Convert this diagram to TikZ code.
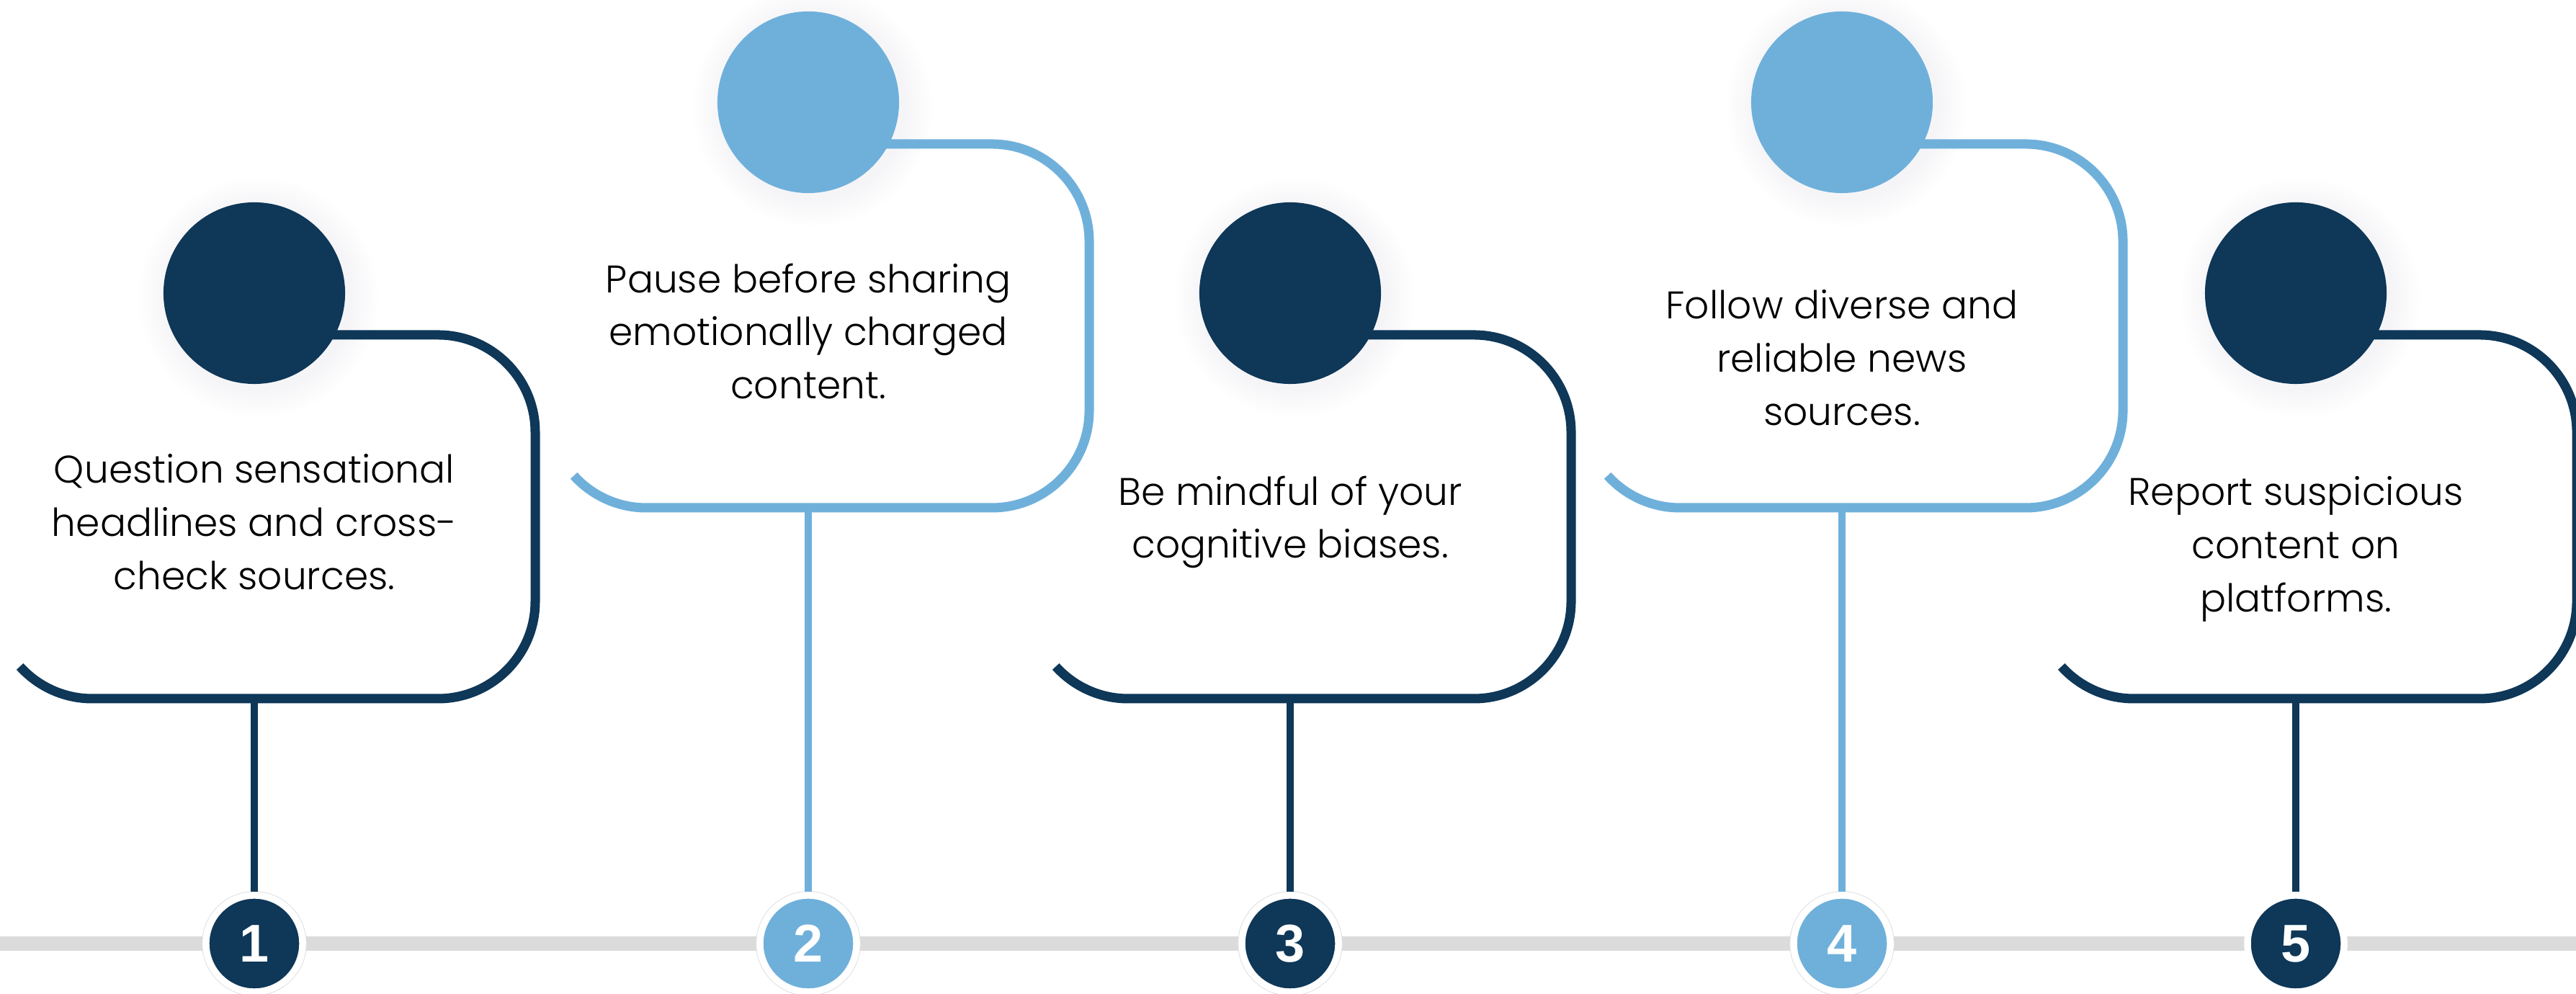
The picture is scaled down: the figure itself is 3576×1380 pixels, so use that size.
\documentclass[tikz,border=0pt]{standalone}
\usepackage{fontspec}
\setmainfont{Poppins Light}
\newfontfamily\digitfont{Liberation Sans}
\usepackage{xcolor}
\usepackage{tikz}
\usetikzlibrary{positioning}

\definecolor{navy}{HTML}{0E3758}
\definecolor{sky}{HTML}{6FB0DB}
\definecolor{railgray}{HTML}{DBDBDB}
\definecolor{glowcol}{HTML}{7A7A9E}

\begin{document}
\begin{tikzpicture}[x=0.01cm, y=0.01cm,
        cardline/.style={line width=3.7pt},
        stem/.style={line width=2.85pt},
        bigdot/.style={circle, minimum size=2.52cm, inner sep=0pt},
        numdot/.style={circle, minimum size=1.34cm, inner sep=0pt, draw=white,
            line width=0.095cm, text=white,
            font=\digitfont\bfseries\fontsize{21}{21}\selectfont},
        rimmed/.style={preaction={draw=black!12, line width=0.115cm}},
        tip/.style={align=center, font=\fontsize{15.2}{21}\selectfont}]

        \useasboundingbox (0,0) rectangle (3576,1380);

        % Card outline, open at the lower left, with a soft halo round its dot
        \def\cardframe#1{
            \foreach \g in {1,...,10}
                \fill[glowcol, opacity=0.009] (6,-6) circle ({126+4*\g});
            \draw[cardline, #1] (0,-58) -- (255,-58)
                arc[start angle=90, end angle=0, radius=135] -- (390,-428)
                arc[start angle=0, end angle=-90, radius=135] -- (-225,-563)
                arc[start angle=270, end angle=222, radius=135];
        }

        % --- Timeline rail and step numbers ---
        \draw[railgray, line width=5.7pt] (0,70) -- (3576,70);
        \node[numdot, rimmed, fill=navy] (num1) at (353,70) {1};
        \node[numdot, rimmed, fill=sky] (num2) at (1122,70) {2};
        \node[numdot, rimmed, fill=navy] (num3) at (1791,70) {3};
        \node[numdot, rimmed, fill=sky] (num4) at (2557,70) {4};
        \node[numdot, fill=navy] (num5) at (3187,70) {5};

        % --- Card 1 ---
        \begin{scope}[shift={(353,973)}]
            \cardframe{navy}
            \node[bigdot, fill=navy] (dot1) at (0,0) {};
            \coordinate (foot1) at (0,-563);
            \node[tip] (tip1) at (0,-318) {Question sensational\\headlines and cross-\\check sources.};
        \end{scope}

        % --- Card 2 ---
        \begin{scope}[shift={(1122,1238)}]
            \cardframe{sky}
            \node[bigdot, fill=sky] (dot2) at (0,0) {};
            \coordinate (foot2) at (0,-563);
            \node[tip] (tip2) at (0,-318) {Pause before sharing\\emotionally charged\\content.};
        \end{scope}

        % --- Card 3 ---
        \begin{scope}[shift={(1791,973)}]
            \cardframe{navy}
            \node[bigdot, fill=navy] (dot3) at (0,0) {};
            \coordinate (foot3) at (0,-563);
            \node[tip] (tip3) at (0,-318) {Be mindful of your\\cognitive biases.};
        \end{scope}

        % --- Card 4 ---
        \begin{scope}[shift={(2557,1238)}]
            \cardframe{sky}
            \node[bigdot, fill=sky] (dot4) at (0,0) {};
            \coordinate (foot4) at (0,-563);
            \node[tip] (tip4) at (0,-355) {Follow diverse and\\reliable news\\sources.};
        \end{scope}

        % --- Card 5 ---
        \begin{scope}[shift={(3187,973)}]
            \cardframe{navy}
            \node[bigdot, fill=navy] (dot5) at (0,0) {};
            \coordinate (foot5) at (0,-563);
            \node[tip] (tip5) at (0,-355) {Report suspicious\\content on\\platforms.};
        \end{scope}

        % Stems down to the rail
        \draw[stem, navy] (foot1) -- (num1);
        \draw[stem, sky] (foot2) -- (num2);
        \draw[stem, navy] (foot3) -- (num3);
        \draw[stem, sky] (foot4) -- (num4);
        \draw[stem, navy] (foot5) -- (num5);
    \end{tikzpicture}
\end{document}
